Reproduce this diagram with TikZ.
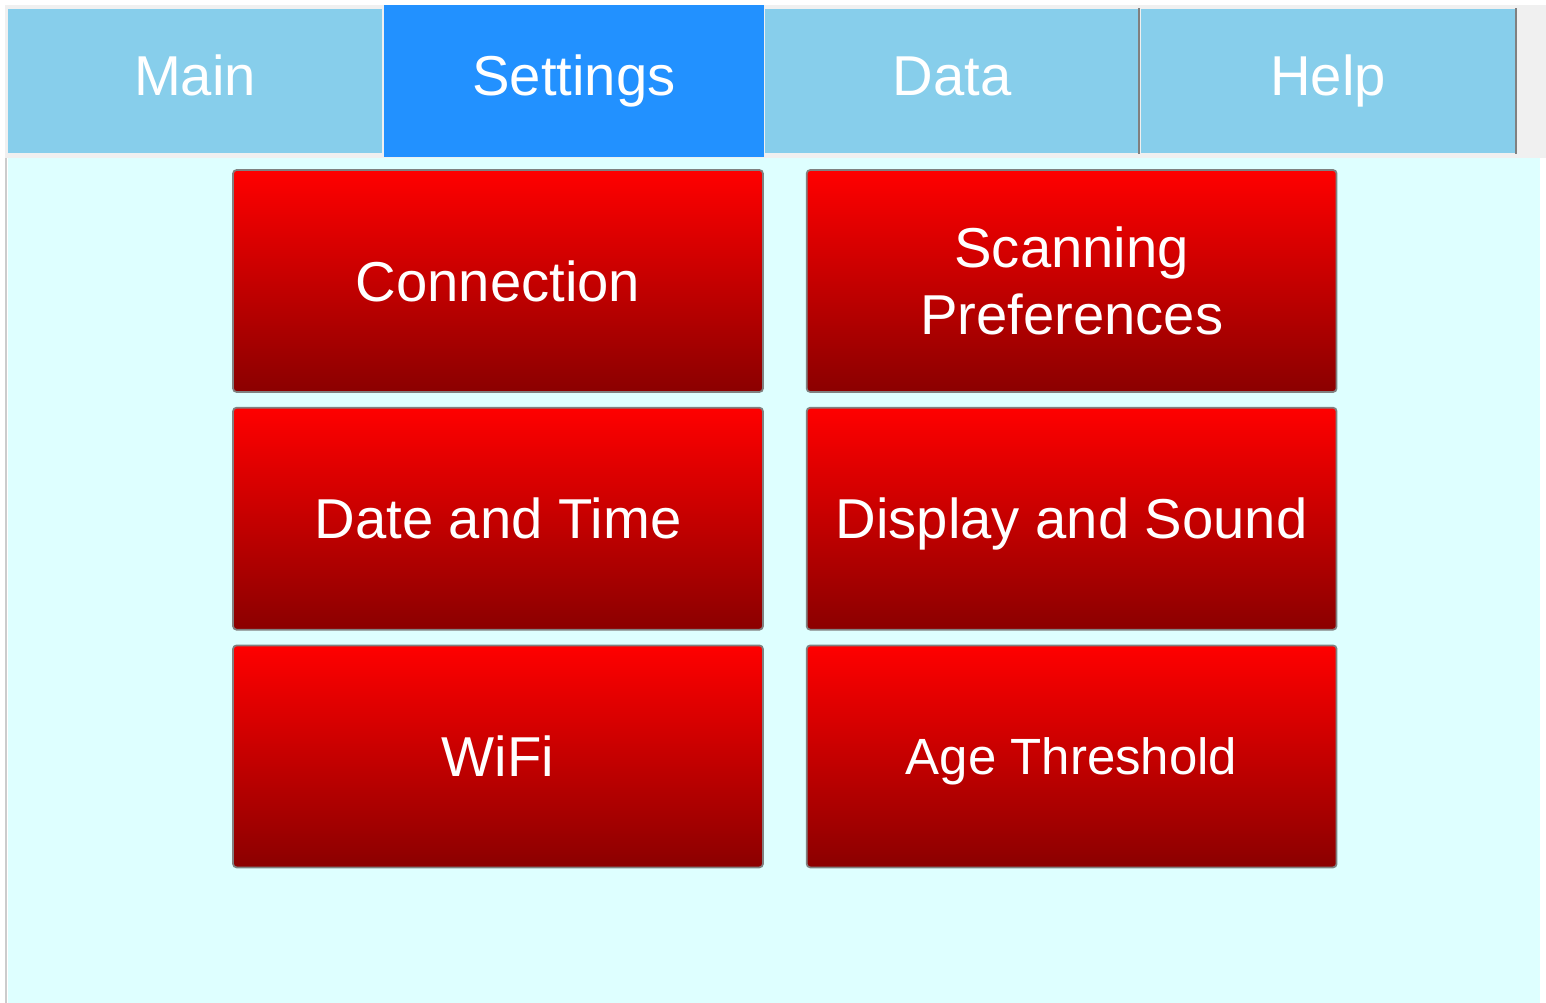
\documentclass[tikz,border=0pt]{standalone}
\usepackage{fontspec}
\setmainfont{Liberation Sans}
\usetikzlibrary{positioning}
\definecolor{tabblue}{RGB}{135,206,235}
\definecolor{tabactive}{RGB}{34,145,255}
\definecolor{panelcyan}{RGB}{222,255,255}
\definecolor{btntop}{RGB}{255,0,0}
\definecolor{btnbot}{RGB}{139,0,0}
\definecolor{framegray}{RGB}{240,240,240}
\tikzset{
  tab/.style={rectangle,fill=tabblue,text=white,minimum width=7.48cm,minimum height=2.9cm,
    inner sep=0pt,text height=23pt,text depth=0.24cm,font=\fontsize{32}{38}\selectfont},
  button/.style={rectangle,rounded corners=2pt,draw=gray,line width=1pt,top color=btntop,
    bottom color=btnbot,text=white,minimum width=10.6cm,minimum height=4.44cm,inner sep=0pt,
    align=center,text height=23pt,text depth=0pt,font=\fontsize{32}{38}\selectfont}
}
\begin{document}
\begin{tikzpicture}[x=0.02cm,y=-0.02cm]
  \useasboundingbox (0,0) rectangle (1546,1003);
  \fill[white] (0,0) rectangle (1546,1003);
  % tab row and panel
  \fill[framegray] (5,5) rectangle (1546,158);
  \fill[panelcyan] (8,158) rectangle (1540,1003);
  \draw[gray!40,line width=0.6pt] (6,158) -- (6,1003);
  \node[tab] (main) at (195,81) {Main};
  \node[tab,fill=tabactive,minimum width=7.6cm,minimum height=3.06cm] (settings) at (574,81) {Settings};
  \node[tab] (data) at (952,81) {Data};
  \node[tab,minimum width=7.5cm] (help) at (1328,81) {Help};
  \draw[gray,line width=1pt] (data.north east) -- (data.south east);
  \draw[gray,line width=1pt] (help.north east) -- (help.south east);
  % buttons
  \node[button] (conn) at (498,281) {Connection};
  \node[button,right=0.84cm of conn,text height=,text depth=] (scan) {Scanning\\Preferences};
  \node[button,below=0.28cm of conn] (date) {Date and Time};
  \node[button,right=0.84cm of date] (disp) {Display and Sound};
  \node[button,below=0.28cm of date] (wifi) {WiFi};
  \node[button,right=0.84cm of wifi,text height=21pt,font=\fontsize{29}{35}\selectfont] (age) {Age Threshold};
\end{tikzpicture}
\end{document}
